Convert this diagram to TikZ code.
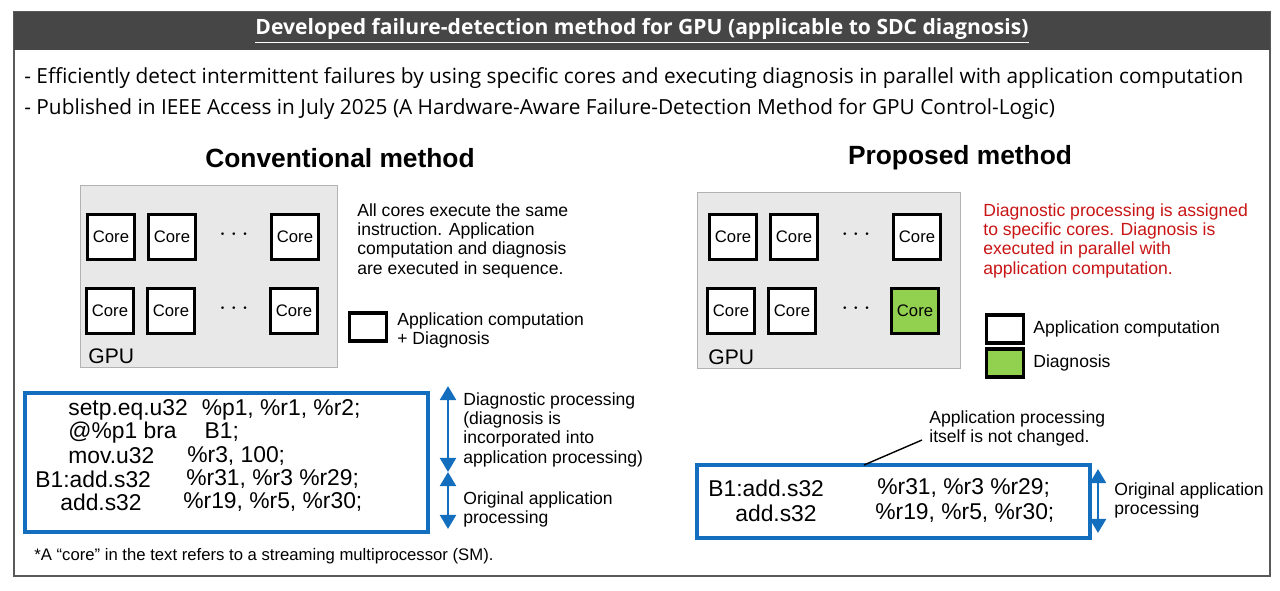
\documentclass[tikz,border=0pt]{standalone}
\usepackage{fontspec}
\setmainfont{Liberation Sans}
\newfontfamily\headfont{Open Sans}
\usetikzlibrary{arrows.meta}
\definecolor{codeblue}{RGB}{20,110,190}
\definecolor{diagred}{RGB}{200,20,20}
\definecolor{coregreen}{RGB}{146,208,80}
\tikzset{
  core/.style = {draw, line width=1.8pt, fill=white, minimum width=27pt, minimum height=26pt, inner sep=0pt, font=\fontsize{9.5}{10}\selectfont},
  gpu/.style = {draw=gray!60, fill=gray!18},
  codebox/.style = {draw=codeblue, line width=2pt},
  span/.style = {codeblue, line width=1.6pt, {Triangle[length=8pt,width=9pt]}-{Triangle[length=8pt,width=9pt]}},
  note/.style = {anchor=north west, align=left, inner sep=0pt, font=\fontsize{10}{11}\selectfont},
  code/.style = {anchor=west, inner sep=0pt, font=\fontsize{13}{14}\selectfont},
  dots/.style = {font=\fontsize{14}{14}\selectfont\bfseries}
}
\begin{document}
\begin{tikzpicture}[x=0.02cm, y=-0.02cm]
        \useasboundingbox (0,0) rectangle (1280,591);
        % frame and header
        \draw[gray!70!black, line width=1pt] (14,12) rectangle (1270,576);
        \fill[gray!55!black] (14,12) rectangle (1270,50);
        \node[white, font=\headfont\bfseries\fontsize{12}{13}\selectfont] (title) at (642,31) {\underline{Developed failure-detection method for GPU (applicable to SDC diagnosis)}};
        \node[anchor=west, inner sep=0pt, font=\headfont\fontsize{11.85}{13}\selectfont] (b1) at (24,78) {- Efficiently detect intermittent failures by using specific cores and executing diagnosis in parallel with application computation};
        \node[anchor=west, inner sep=0pt, font=\headfont\fontsize{11.85}{13}\selectfont] (b2) at (24,109) {- Published in IEEE Access in July 2025 (A Hardware-Aware Failure-Detection Method for GPU Control-Logic)};

        % conventional method
        \node[font=\fontsize{15}{16}\selectfont\bfseries] (convtitle) at (340,158) {Conventional method};
        \draw[gpu] (80,185) rectangle (337,367);
        \foreach \x/\n in {111/1,172/2,295/3} {
            \node[core] (ct\n) at (\x,237) {Core};
            \node[core] (cb\n) at (\x-1,311) {Core};
        }
        \node[dots] (cdt) at (234,235) {$\cdots$};
        \node[dots] (cdb) at (234,309) {$\cdots$};
        \node[anchor=west, inner sep=0pt, font=\fontsize{12}{13}\selectfont] (cgpu) at (88,356) {GPU};
        \node[note] (convnote) at (357,203) {All cores execute the same\\instruction. Application\\computation and diagnosis\\are executed in sequence.};
        \node[core, minimum width=21pt, minimum height=16pt] (clegend) at (368,327) {};
        \node[note] (clegtext) at (397,312) {Application computation\\+ Diagnosis};

        \draw[codebox] (25,393) rectangle (428,532);
        \node[code] (l1) at (68,410) {setp.eq.u32\hspace{8pt}\%p1, \%r1, \%r2;};
        \node[code] (l2) at (68,433) {@\%p1 bra\hspace{16pt}B1;};
        \node[code] (l3) at (68,456) {mov.u32};
        \node[code] (l3b) at (187,456) {\%r3, 100;};
        \node[code] (l4) at (35,479) {B1:add.s32};
        \node[code] (l4b) at (186,479) {\%r31, \%r3 \%r29;};
        \node[code] (l5) at (60,502) {add.s32};
        \node[code] (l5b) at (183,502) {\%r19, \%r5, \%r30;};
        \coordinate (ca) at (448,386);
        \coordinate (cb) at (448,472);
        \coordinate (cc) at (448,529);
        \draw[span] (ca) -- (cb);
        \draw[span] (cb) -- (cc);
        \node[note] (cspan1) at (463,392) {Diagnostic processing\\(diagnosis is\\incorporated into\\application processing)};
        \node[note] (cspan2) at (463,491) {Original application\\processing};
        \node[anchor=west, inner sep=0pt, font=\fontsize{9.5}{11}\selectfont] (foot) at (34,556) {*A ``core'' in the text refers to a streaming multiprocessor (SM).};

        % proposed method
        \node[font=\fontsize{15}{16}\selectfont\bfseries] (proptitle) at (960,158) {Proposed method};
        \draw[gpu] (697,192) rectangle (960,368);
        \foreach \x/\n in {733/1,794/2,917/3} {
            \node[core] (pt\n) at (\x,237) {Core};
        }
        \node[core] (pb1) at (731,311) {Core};
        \node[core] (pb2) at (792,311) {Core};
        \node[core, fill=coregreen] (pb3) at (915,311) {Core};
        \node[dots] (pdt) at (856,235) {$\cdots$};
        \node[dots] (pdb) at (856,309) {$\cdots$};
        \node[anchor=west, inner sep=0pt, font=\fontsize{12}{13}\selectfont] (pgpu) at (708,357) {GPU};
        \node[note, text=diagred] (propnote) at (983,203) {Diagnostic processing is assigned\\to specific cores. Diagnosis is\\executed in parallel with\\application computation.};
        \node[core, minimum width=21pt, minimum height=16pt] (plegapp) at (1005,329) {};
        \node[core, fill=coregreen, minimum width=21pt, minimum height=16pt] (plegdiag) at (1005,363) {};
        \node[anchor=west, inner sep=0pt, font=\fontsize{10}{11}\selectfont] (plegt1) at (1033,329) {Application computation};
        \node[anchor=west, inner sep=0pt, font=\fontsize{10}{11}\selectfont] (plegt2) at (1033,363) {Diagnosis};

        \node[note] (pann) at (929,410) {Application processing\\itself is not changed.};
        \draw[codebox] (697,465) rectangle (1090,538);
        \coordinate (pbox) at (864,465);
        \coordinate (pannend) at (922,440);
        \draw[line width=0.8pt] (pbox) -- (pannend);
        \node[code] (r1) at (708,488) {B1:add.s32};
        \node[code] (r1b) at (877,488) {\%r31, \%r3 \%r29;};
        \node[code] (r2) at (735,513) {add.s32};
        \node[code] (r2b) at (875,513) {\%r19, \%r5, \%r30;};
        \coordinate (pa) at (1098,469);
        \coordinate (pc) at (1098,533);
        \draw[span] (pa) -- (pc);
        \node[note] (pspan) at (1114,482) {Original application\\processing};
\end{tikzpicture}
\end{document}
